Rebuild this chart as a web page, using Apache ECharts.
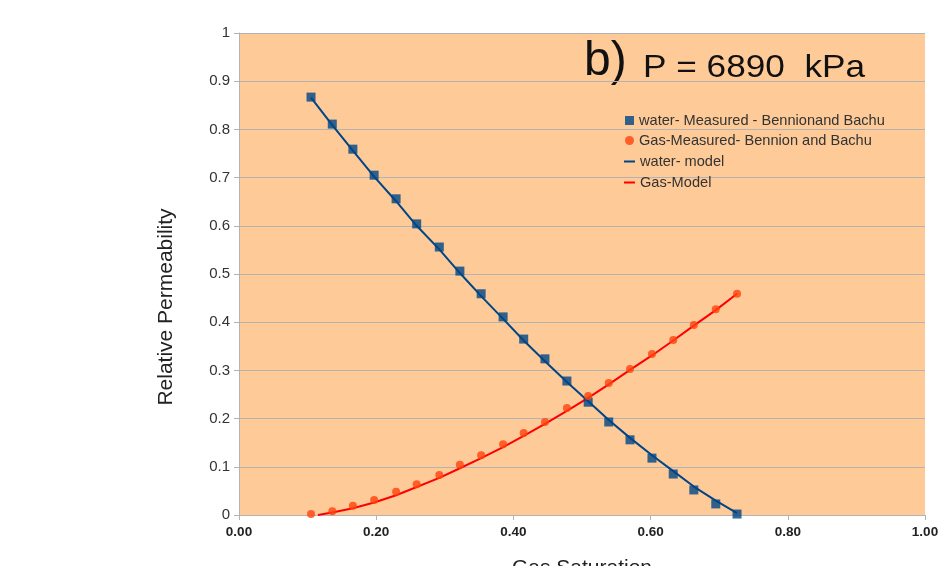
<!DOCTYPE html>
<html><head><meta charset="utf-8">
<script src="https://cdn.jsdelivr.net/npm/echarts@6/dist/echarts.min.js"></script>
<style>html,body{margin:0;padding:0;background:#fff;overflow:hidden}#c{width:938px;height:566px}</style>
</head><body><div id="c"></div>
<script>
// Gas saturation of measured points
var satMeas = [0.105,0.136,0.166,0.197,0.229,0.259,0.292,0.322,0.353,0.385,0.415,0.446,0.478,0.509,0.539,0.570,0.602,0.633,0.663,0.695,0.726];
var krwMeas = [0.867,0.811,0.759,0.705,0.656,0.604,0.556,0.506,0.459,0.411,0.365,0.324,0.278,0.234,0.193,0.156,0.118,0.085,0.052,0.023,0.002];
var krgMeas = [0.002,0.008,0.019,0.031,0.048,0.064,0.083,0.104,0.124,0.147,0.170,0.193,0.222,0.247,0.274,0.303,0.334,0.363,0.394,0.427,0.459];
// Model curves
var satWModel = [0.105,0.136,0.166,0.197,0.229,0.259,0.292,0.322,0.353,0.385,0.415,0.446,0.478,0.509,0.539,0.570,0.602,0.633,0.663,0.695,0.726];
var krwModel  = [0.866,0.809,0.756,0.702,0.651,0.600,0.551,0.502,0.454,0.407,0.362,0.319,0.276,0.236,0.197,0.160,0.124,0.091,0.059,0.030,0.004];
var satGModel = [0.115,0.136,0.166,0.197,0.229,0.259,0.292,0.322,0.353,0.385,0.415,0.446,0.478,0.509,0.539,0.570,0.602,0.633,0.663,0.695,0.726];
var krgModel  = [0.000,0.005,0.014,0.026,0.041,0.058,0.077,0.097,0.118,0.141,0.164,0.189,0.216,0.243,0.271,0.301,0.331,0.362,0.393,0.425,0.459];
var xTicks = [0, 0.2, 0.4, 0.6, 0.8, 1.0];
var yTicks = [0,0.1,0.2,0.3,0.4,0.5,0.6,0.7,0.8,0.9,1];

function zip(a,b){return a.map(function(v,i){return [v,b[i]];});}
var names = ['water- Measured - Bennionand Bachu','Gas-Measured- Bennion and Bachu','water- model','Gas-Model'];
var FONT = '"Liberation Sans", Arial, sans-serif';
var legendText = {fontFamily:FONT,fontSize:14.6,color:'#333'};

var chart = echarts.init(document.getElementById('c'), null, {renderer:'canvas'});
chart.setOption({
  animation:false,
  textStyle:{fontFamily:FONT},
  grid:{left:239,right:13,top:33,bottom:51,containLabel:false,outerBoundsMode:'none',show:true,backgroundColor:'#FECA98',borderWidth:0},
  legend:[{
    orient:'vertical', left:620, top:108, itemGap:5, itemWidth:9, itemHeight:9,
    textStyle:legendText,
    data:[{name:names[0],icon:'rect'},{name:names[1],icon:'circle'}]
  },{
    orient:'vertical', left:619, top:149, itemGap:6, itemWidth:11, itemHeight:2,
    textStyle:legendText,
    data:[{name:names[2],icon:'rect'},{name:names[3],icon:'rect'}]
  }],
  xAxis:{
    type:'value', min:xTicks[0], max:xTicks[xTicks.length-1], interval:0.2,
    name:'Gas Saturation', nameLocation:'middle', nameGap:43,
    nameTextStyle:{fontFamily:FONT,fontSize:21,color:'#222'},
    axisLine:{show:true,lineStyle:{color:'#B3B3B3'}},
    axisTick:{show:true,length:5,lineStyle:{color:'#B3B3B3'}},
    axisLabel:{fontFamily:FONT,fontSize:13.5,fontWeight:'bold',color:'#222',margin:10,formatter:function(v){return v.toFixed(2);}},
    splitLine:{show:false}
  },
  yAxis:{
    type:'value', min:yTicks[0], max:yTicks[yTicks.length-1], interval:0.1,
    axisLine:{show:true,lineStyle:{color:'#B3B3B3'}},
    axisTick:{show:true,length:5,lineStyle:{color:'#B3B3B3'}},
    axisLabel:{fontFamily:FONT,fontSize:15,color:'#333',margin:9,formatter:function(v){return String(Math.round(v*10)/10);}},
    splitLine:{show:true,lineStyle:{color:'#B3B3B3',width:1}}
  },
  graphic:[
    {type:'text',left:584,top:38,style:{text:'b)',font:'48px '+FONT,fill:'#111'}},
    {type:'text',x:643,y:52.5,scaleX:1.1,style:{text:'P = 6890  kPa',font:'32px '+FONT,fill:'#111'}},
    {type:'text',x:166,y:307,rotation:Math.PI/2,style:{text:'Relative Permeability',font:'21px '+FONT,fill:'#222',align:'center',verticalAlign:'middle'}}
  ],
  series:[
    {name:names[2],type:'line',data:zip(satWModel,krwModel),showSymbol:false,symbol:'none',lineStyle:{color:'#004586',width:2},itemStyle:{color:'#004586'},z:2},
    {name:names[3],type:'line',data:zip(satGModel,krgModel),showSymbol:false,symbol:'none',lineStyle:{color:'#FF0000',width:2},itemStyle:{color:'#FF0000'},z:2},
    {name:names[0],type:'scatter',data:zip(satMeas,krwMeas),symbol:'rect',symbolSize:9,itemStyle:{color:'#004586'},z:3},
    {name:names[1],type:'scatter',data:zip(satMeas,krgMeas),symbol:'circle',symbolSize:8,itemStyle:{color:'#FF420E'},z:3}
  ]
});
</script></body></html>
